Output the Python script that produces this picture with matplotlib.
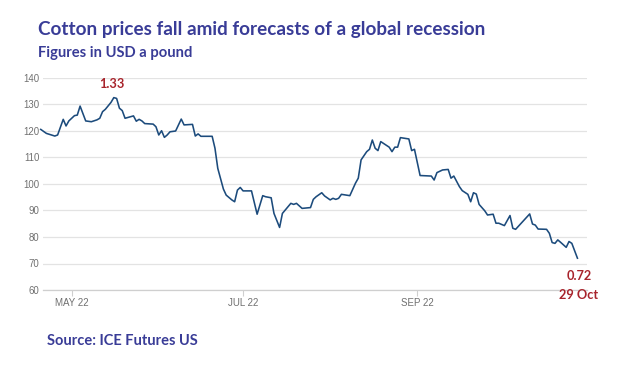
import matplotlib
matplotlib.use('Agg')
import matplotlib.pyplot as plt
import pandas as pd

# ---------------- data ----------------
dates = [
    '2022-04-20', '2022-04-22', '2022-04-25', '2022-04-26', '2022-04-28', '2022-04-29', '2022-04-30',
    '2022-05-02', '2022-05-03', '2022-05-04', '2022-05-06', '2022-05-08', '2022-05-10', '2022-05-11',
    '2022-05-12', '2022-05-13', '2022-05-15', '2022-05-16', '2022-05-17', '2022-05-18', '2022-05-19',
    '2022-05-20', '2022-05-22', '2022-05-23', '2022-05-24', '2022-05-25', '2022-05-26', '2022-05-27',
    '2022-05-30', '2022-05-31', '2022-06-01', '2022-06-02', '2022-06-03', '2022-06-04', '2022-06-05',
    '2022-06-07', '2022-06-09', '2022-06-10', '2022-06-13', '2022-06-14', '2022-06-15', '2022-06-16',
    '2022-06-20', '2022-06-21', '2022-06-22', '2022-06-24', '2022-06-25', '2022-06-27', '2022-06-28',
    '2022-06-29', '2022-06-30', '2022-07-01', '2022-07-04', '2022-07-06', '2022-07-08', '2022-07-09',
    '2022-07-11', '2022-07-12', '2022-07-14', '2022-07-15', '2022-07-18', '2022-07-19', '2022-07-20',
    '2022-07-22', '2022-07-25', '2022-07-26', '2022-07-27', '2022-07-29', '2022-07-30', '2022-08-01',
    '2022-08-02', '2022-08-03', '2022-08-04', '2022-08-05', '2022-08-08', '2022-08-10', '2022-08-11',
    '2022-08-12', '2022-08-14', '2022-08-15', '2022-08-16', '2022-08-17', '2022-08-18', '2022-08-19',
    '2022-08-22', '2022-08-23', '2022-08-24', '2022-08-25', '2022-08-26', '2022-08-29', '2022-08-30',
    '2022-08-31', '2022-09-02', '2022-09-06', '2022-09-07', '2022-09-08', '2022-09-10', '2022-09-12',
    '2022-09-13', '2022-09-14', '2022-09-16', '2022-09-17', '2022-09-19', '2022-09-20', '2022-09-21',
    '2022-09-22', '2022-09-23', '2022-09-25', '2022-09-26', '2022-09-28', '2022-09-29', '2022-09-30',
    '2022-10-02', '2022-10-04', '2022-10-05', '2022-10-06', '2022-10-11', '2022-10-12', '2022-10-13',
    '2022-10-14', '2022-10-17', '2022-10-18', '2022-10-19', '2022-10-20', '2022-10-21', '2022-10-22',
    '2022-10-24', '2022-10-25', '2022-10-26', '2022-10-28',
]
prices = [
    120.6, 119.1, 118.1, 118.5, 124.4, 121.9, 123.8,
    125.8, 126.0, 129.4, 123.8, 123.5, 124.2, 124.8,
    127.3, 128.2, 130.8, 132.6, 132.3, 128.6, 127.7,
    124.8, 125.4, 125.7, 123.7, 124.4, 123.8, 122.8,
    122.6, 121.6, 118.5, 120.1, 117.6, 118.5, 119.7,
    120.0, 124.5, 122.3, 122.5, 118.1, 118.9, 118.0,
    118.0, 113.5, 105.9, 98.1, 95.8, 94.0, 93.3,
    97.7, 98.7, 97.4, 97.4, 88.6, 95.6, 95.2,
    94.8, 88.9, 83.6, 88.9, 92.7, 92.3, 92.7,
    90.8, 91.1, 94.2, 95.2, 96.7, 95.5, 94.0,
    94.6, 94.2, 94.6, 96.1, 95.6, 100.3, 102.2,
    109.1, 112.2, 113.1, 116.6, 113.5, 112.6, 116.0,
    113.9, 112.2, 113.9, 113.9, 117.5, 117.0, 112.6,
    113.1, 103.2, 103.0, 101.5, 104.3, 105.3, 105.5,
    102.2, 103.0, 99.0, 97.5, 96.1, 93.3, 96.7,
    96.2, 92.3, 89.9, 88.3, 88.6, 85.2, 85.2,
    84.3, 88.1, 83.3, 82.9, 88.7, 84.9, 84.5,
    83.0, 82.9, 81.4, 77.9, 77.6, 78.9, 78.0,
    76.1, 78.3, 77.6, 72.0,
]
tick_dates = ['2022-05-01', '2022-07-01', '2022-09-01']
tick_labels = ['MAY 22', 'JUL 22', 'SEP 22']
y_ticks = [60, 70, 80, 90, 100, 110, 120, 130, 140]

title = 'Cotton prices fall amid forecasts of a global recession'
subtitle = 'Figures in USD a pound'
source = 'Source: ICE Futures US'
peak_label = '1.33'
last_label = '0.72'
last_date_label = '29 Oct'

# ---------------- styling ----------------
W, H = 640, 368
NAVY = '#393c97'
RED = '#a8242c'
LINE = '#1c4b7c'
GRID = '#e3e3e3'
TICKC = '#707070'

x = pd.to_datetime(dates)
y = prices

fig = plt.figure(figsize=(W / 100, H / 100), dpi=100)
fig.patch.set_facecolor('white')

ax = fig.add_axes([43 / W, 1 - 290 / H, (587 - 43) / W, (290 - 78) / H])
ax.plot(x, y, color=LINE, lw=1.15, clip_on=False, solid_joinstyle='round')

x0 = pd.Timestamp('2022-05-01')
ax.set_xlim(x0 - pd.Timedelta(days=10.2), x0 + pd.Timedelta(days=183.4))
ax.set_ylim(min(y_ticks), max(y_ticks))
ax.set_yticks(y_ticks)
ax.set_xticks(pd.to_datetime(tick_dates))
ax.set_xticklabels(tick_labels)

for s in ['top', 'right', 'left']:
    ax.spines[s].set_visible(False)
ax.spines['bottom'].set_color('#cfcfcf')
ax.spines['bottom'].set_linewidth(0.9)
ax.yaxis.grid(True, color=GRID, lw=0.9)
ax.set_axisbelow(True)
ax.tick_params(axis='y', length=0, pad=2.5, labelsize=6.9, labelcolor=TICKC)
ax.tick_params(axis='x', length=4, width=0.8, color='#cfcfcf', pad=1.5,
               labelsize=7.0, labelcolor=TICKC)
for lab in ax.get_xticklabels() + ax.get_yticklabels():
    lab.set_fontfamily('Liberation Sans')

# annotations
ipk = max(range(len(y)), key=lambda i: y[i])
lab_kw = dict(textcoords='offset points', ha='center', va='center', color=RED,
              fontsize=9.2, fontweight='bold', family='Lato', annotation_clip=False)
ax.annotate(peak_label, xy=(x[ipk], y[ipk]), xytext=(-1.4, 9.8), **lab_kw)
ax.annotate(last_label, xy=(x[-1], y[-1]), xytext=(1.0, -12.8), **lab_kw)
ax.annotate(last_date_label, xy=(x[-1], y[-1]), xytext=(1.0, -26.5), **lab_kw)

# titles
t1 = fig.text(38.5 / W, 1 - 35 / H, title, ha='left', va='baseline', color=NAVY,
              fontsize=14, fontweight='bold', family='Lato')
t2 = fig.text(38.5 / W, 1 - 56.7 / H, subtitle, ha='left', va='baseline', color=NAVY,
              fontsize=10.5, fontweight='bold', family='Lato')
t3 = fig.text(46.7 / W, 1 - 345 / H, source, ha='left', va='baseline', color=NAVY,
              fontsize=11, fontweight='bold', family='Lato')

fig.canvas.draw()
r = fig.canvas.get_renderer()
for t, target in [(t1, 450), (t2, 155), (t3, 150)]:
    w = t.get_window_extent(r).width
    t.set_fontsize(t.get_fontsize() * target / w)

fig.savefig('out.png', dpi=100, facecolor='white')
